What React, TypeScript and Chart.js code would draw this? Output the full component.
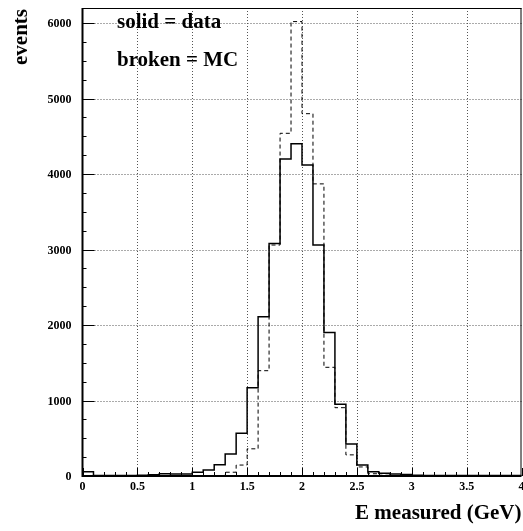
import React, { useEffect, useRef } from "react";
import { Chart, registerables } from "chart.js";

Chart.register(...registerables);

// Histogram bin edges (GeV), 40 bins of 0.1 GeV
const binEdges = [
  0.0, 0.1, 0.2, 0.3, 0.4, 0.5, 0.6, 0.7, 0.8, 0.9,
  1.0, 1.1, 1.2, 1.3, 1.4, 1.5, 1.6, 1.7, 1.8, 1.9,
  2.0, 2.1, 2.2, 2.3, 2.4, 2.5, 2.6, 2.7, 2.8, 2.9,
  3.0, 3.1, 3.2, 3.3, 3.4, 3.5, 3.6, 3.7, 3.8, 3.9, 4.0,
];

// Solid histogram: data
const dataCounts = [
  57, 8, 8, 8, 8, 10, 15, 30, 25, 25,
  50, 80, 150, 290, 565, 1170, 2110, 3080, 4200, 4400,
  4120, 3060, 1900, 950, 425, 145, 55, 35, 25, 20,
  10, 8, 8, 8, 8, 8, 8, 8, 8, 8,
];

// Broken histogram: MC
const mcCounts = [
  0, 0, 0, 0, 0, 0, 0, 0, 0, 0,
  0, 0, 5, 50, 145, 360, 1395, 3060, 4540, 6020,
  4800, 3870, 1440, 905, 280, 120, 30, 10, 0, 0,
  0, 0, 0, 0, 0, 0, 0, 0, 0, 0,
];

const xTicks = [0, 0.5, 1, 1.5, 2, 2.5, 3, 3.5, 4];
const xTickLabels = ["0", "0.5", "1", "1.5", "2", "2.5", "3", "3.5", "4"];
const yTicks = [0, 1000, 2000, 3000, 4000, 5000, 6000];
const yTickLabels = ["0", "1000", "2000", "3000", "4000", "5000", "6000"];
const yMinorStep = 250;

const xTitle = "E measured (GeV)";
const yTitle = "events";
const legendLines = ["solid = data", "broken = MC"];

const FONT = "'Liberation Serif', 'Times New Roman', serif";

function toSteps(counts: number[]) {
  return binEdges.map((x, i) => ({
    x,
    y: i < counts.length ? counts[i] : counts[counts.length - 1],
  }));
}

const decorPlugin = {
  id: "decor",
  beforeDatasetsDraw(chart: any) {
    const { ctx, chartArea: a, scales } = chart;
    const xs = scales.x;
    const ys = scales.y;
    ctx.save();
    ctx.strokeStyle = "#555";
    ctx.lineWidth = 1;
    ctx.setLineDash([1, 2]);
    xTicks.forEach((v) => {
      if (v <= 0 || v >= 4) return;
      const px = Math.round(xs.getPixelForValue(v)) + 0.5;
      ctx.beginPath();
      ctx.moveTo(px, a.top);
      ctx.lineTo(px, a.bottom);
      ctx.stroke();
    });
    yTicks.forEach((v) => {
      if (v <= 0) return;
      const py = Math.round(ys.getPixelForValue(v)) + 0.5;
      ctx.beginPath();
      ctx.moveTo(a.left, py);
      ctx.lineTo(a.right, py);
      ctx.stroke();
    });
    ctx.restore();
  },
  afterDraw(chart: any) {
    const { ctx, chartArea: a, scales } = chart;
    const xs = scales.x;
    const ys = scales.y;
    ctx.save();
    ctx.setLineDash([]);
    ctx.strokeStyle = "#000";

    // frame
    ctx.lineWidth = 1;
    ctx.beginPath();
    ctx.moveTo(a.left, a.top + 0.5);
    ctx.lineTo(a.right, a.top + 0.5);
    ctx.moveTo(a.right - 0.5, a.top);
    ctx.lineTo(a.right - 0.5, a.bottom);
    ctx.stroke();
    ctx.lineWidth = 2;
    ctx.beginPath();
    ctx.moveTo(a.left, a.top);
    ctx.lineTo(a.left, a.bottom + 1);
    ctx.moveTo(a.left - 1, a.bottom);
    ctx.lineTo(a.right, a.bottom);
    ctx.stroke();

    // y ticks
    ctx.lineWidth = 1;
    ctx.beginPath();
    for (let v = 0; v <= 6200; v += yMinorStep) {
      const py = Math.round(ys.getPixelForValue(v)) + 0.5;
      const major = v % 1000 === 0;
      ctx.moveTo(a.left, py);
      ctx.lineTo(a.left + (major ? 12 : 4), py);
    }
    // x ticks
    binEdges.forEach((v) => {
      const px = Math.round(xs.getPixelForValue(v)) + 0.5;
      const major = Math.abs(v * 2 - Math.round(v * 2)) < 1e-6;
      ctx.moveTo(px, a.bottom);
      ctx.lineTo(px, a.bottom - (major ? 8 : 4));
    });
    ctx.stroke();

    // tick labels
    ctx.fillStyle = "#000";
    ctx.font = `bold 12px ${FONT}`;
    ctx.textAlign = "right";
    ctx.textBaseline = "middle";
    yTicks.forEach((v, i) => {
      ctx.fillText(yTickLabels[i], a.left - 11, ys.getPixelForValue(v) + 1);
    });
    ctx.textAlign = "center";
    ctx.textBaseline = "middle";
    xTicks.forEach((v, i) => {
      ctx.fillText(xTickLabels[i], xs.getPixelForValue(v), a.bottom + 11);
    });

    // axis titles
    ctx.font = `bold 21px ${FONT}`;
    ctx.textAlign = "right";
    ctx.textBaseline = "middle";
    ctx.fillText(xTitle, a.right, a.bottom + 38);

    ctx.save();
    ctx.translate(22, 37);
    ctx.rotate(-Math.PI / 2);
    ctx.textAlign = "center";
    ctx.textBaseline = "middle";
    ctx.fillText(yTitle, 0, 0);
    ctx.restore();

    // legend text
    ctx.textAlign = "left";
    ctx.textBaseline = "middle";
    ctx.fillText(legendLines[0], 117, 23);
    ctx.fillText(legendLines[1], 117, 61);

    ctx.restore();
  },
};

export default function App() {
  const ref = useRef<HTMLCanvasElement | null>(null);

  useEffect(() => {
    document.body.style.margin = "0";
    const canvas = ref.current;
    if (!canvas) return;
    const chart = new Chart(canvas, {
      type: "line",
      data: {
        datasets: [
          {
            label: "data",
            data: toSteps(dataCounts),
            stepped: "before",
            borderColor: "#000",
            borderWidth: 1.5,
            pointRadius: 0,
            fill: false,
          },
          {
            label: "MC",
            data: toSteps(mcCounts),
            stepped: "before",
            borderColor: "#000",
            borderWidth: 1,
            borderDash: [4, 3],
            pointRadius: 0,
            fill: false,
          },
        ],
      },
      options: {
        responsive: false,
        animation: false,
        devicePixelRatio: 1,
        parsing: false as any,
        layout: { padding: { left: 82.5, right: 1.5, top: 8, bottom: 55 } },
        plugins: {
          legend: { display: false },
          tooltip: { enabled: false },
        },
        scales: {
          x: { type: "linear", min: 0, max: 4, display: false },
          y: { type: "linear", min: 0, max: 6200, display: false },
        },
      },
      plugins: [decorPlugin],
    });
    return () => chart.destroy();
  }, []);

  return (
    <div style={{ position: "absolute", left: 0, top: 0, width: 523, height: 531, background: "#fff" }}>
      <canvas ref={ref} width={523} height={531} style={{ display: "block" }} />
    </div>
  );
}
